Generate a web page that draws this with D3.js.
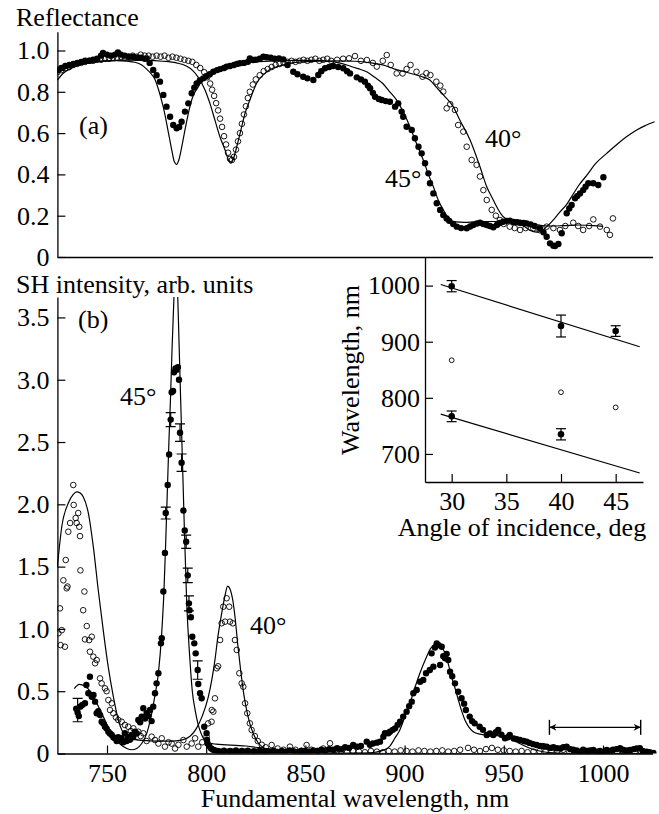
<!DOCTYPE html>
<html><head><meta charset="utf-8">
<script src="https://cdn.jsdelivr.net/npm/d3@7"></script>
<style>
html,body{margin:0;padding:0;background:#fff;}
svg{display:block;}
text{font-family:"Liberation Serif","Times New Roman",serif;font-size:26px;fill:#000;}
</style></head>
<body>
<svg id="chart" width="659" height="814"></svg>
<script>
// ---------- DATA ----------
// Panel (a): reflectance, [wavelength nm, R]
const reflData45 = [[725,0.906],[727,0.915],[729,0.925],[731,0.93],[733,0.935],[735,0.94],[737,0.945],[739,0.95],[741,0.95],[743,0.955],[745,0.96],[747,0.975],[748,0.988],[750,0.98],[752,0.975],[754,0.98],[755.5,0.99],[757,0.98],[759,0.975],[761,0.97],[763,0.97],[765,0.965],[767,0.965],[769,0.96],[770,0.962],[771.5,0.94],[773.3,0.906],[775,0.88],[776.7,0.849],[778.4,0.785],[780,0.728],[781.8,0.679],[783.4,0.639],[785.1,0.623],[786.4,0.63],[787.6,0.655],[789.3,0.704],[791,0.744],[792.7,0.793],[794,0.82],[795.2,0.841],[796.8,0.855],[798.5,0.865],[800,0.875],[801.8,0.885],[803.6,0.897],[805.5,0.905],[807,0.91],[809,0.915],[810.3,0.922],[812,0.925],[814,0.93],[815.5,0.935],[817,0.938],[819,0.94],[821,0.945],[822,0.962],[823.7,0.954],[825,0.955],[827,0.96],[828.8,0.97],[830.5,0.967],[832.5,0.965],[834.5,0.96],[836.7,0.962],[838.9,0.957],[841,0.93],[843.9,0.897],[846,0.885],[848.9,0.873],[851,0.865],[854,0.857],[856.5,0.881],[858,0.9],[859.9,0.914],[862,0.92],[864,0.925],[866.5,0.92],[869.1,0.914],[871,0.9],[872.5,0.889],[875.9,0.87],[878,0.86],[880,0.849],[881.5,0.83],[882.6,0.817],[884,0.795],[885.1,0.776],[887,0.765],[888.5,0.76],[890.5,0.755],[892.6,0.752],[895.2,0.728],[896.8,0.744],[898.5,0.704],[899.3,0.679],[901,0.631],[903.6,0.615],[905.2,0.575],[907,0.534],[908.6,0.502],[910.3,0.454],[912,0.405],[912.8,0.357],[914.5,0.308],[916.2,0.26],[917.9,0.228],[919.5,0.203],[921.2,0.187],[922.5,0.175],[924.5,0.16],[926.3,0.147],[928.5,0.14],[931.3,0.139],[933,0.148],[934.6,0.155],[936.5,0.162],[938,0.166],[939.7,0.16],[941.4,0.155],[943,0.15],[944.7,0.144],[946.5,0.155],[948,0.165],[949.7,0.171],[951.5,0.175],[953.1,0.176],[955,0.17],[956.7,0.168],[958.2,0.166],[960,0.165],[961.5,0.163],[963.5,0.158],[965.5,0.15],[968.2,0.139],[970,0.12],[971.6,0.098],[973.3,0.066],[975,0.055],[975.8,0.053],[977.5,0.063],[979.2,0.115],[981.7,0.212],[983,0.235],[984.2,0.252],[985.9,0.284],[987,0.295],[988.4,0.308],[990,0.324],[991.2,0.34],[992.6,0.357],[995.1,0.357],[997.6,0.349],[1000.2,0.386]];
const reflData40 = [[725,0.895],[727,0.905],[729,0.915],[731,0.92],[733,0.93],[735,0.935],[737,0.94],[739,0.945],[741,0.95],[743,0.95],[745,0.955],[747,0.955],[749,0.96],[751,0.96],[753,0.965],[755,0.965],[757,0.97],[759,0.965],[761,0.97],[763,0.975],[765,0.97],[767,0.98],[769,0.975],[771,0.975],[773,0.97],[775,0.975],[777,0.97],[779,0.975],[781,0.965],[783,0.97],[785,0.965],[787,0.96],[789,0.955],[791,0.95],[793,0.945],[795,0.93],[797,0.915],[799,0.895],[800.5,0.87],[802,0.84],[803,0.81],[804,0.78],[805,0.745],[806,0.71],[807,0.67],[808,0.63],[809,0.585],[810,0.545],[811,0.505],[812,0.475],[813,0.47],[814,0.485],[815,0.52],[816,0.56],[817,0.6],[818,0.645],[819,0.69],[820,0.73],[821,0.77],[822,0.8],[823.5,0.835],[825,0.86],[827,0.88],[829,0.9],[831,0.91],[833,0.92],[835,0.93],[837,0.935],[839,0.94],[841,0.945],[843,0.95],[845,0.945],[847,0.95],[849,0.955],[851,0.95],[853,0.955],[855,0.96],[857,0.95],[859,0.955],[861,0.96],[863,0.95],[866,0.955],[869,0.96],[872,0.962],[875,0.973],[878,0.95],[881,0.954],[884,0.94],[886,0.922],[889,0.95],[891,0.978],[893,0.93],[896,0.889],[899,0.889],[901,0.91],[903,0.93],[906,0.897],[909,0.873],[911,0.89],[913,0.881],[916,0.849],[918,0.83],[919.5,0.801],[921.2,0.72],[923,0.74],[925.4,0.712],[927,0.639],[929.6,0.607],[931.3,0.534],[933.8,0.47],[936.3,0.446],[938,0.39],[939.7,0.324],[941.4,0.276],[943.9,0.228],[946,0.2],[948,0.179],[950,0.16],[953,0.147],[955.5,0.14],[958.2,0.131],[961,0.14],[964.9,0.139],[968,0.13],[971.6,0.147],[975,0.14],[978.3,0.131],[981,0.15],[985,0.166],[987.5,0.15],[990,0.131],[993,0.15],[995.1,0.182],[998.5,0.147],[1001.9,0.131],[1003.5,0.107],[1005,0.187]];
const reflFit45 = [[725,0.857],[728,0.89],[732,0.914],[736,0.93],[740,0.938],[745,0.946],[750,0.95],[755,0.951],[760,0.948],[764,0.943],[767.5,0.93],[770,0.91],[772,0.89],[774.2,0.86],[776,0.81],[778,0.74],[779.2,0.69],[781,0.6],[782.6,0.52],[784,0.46],[785.1,0.449],[786.2,0.47],[787.7,0.534],[789,0.6],[791,0.696],[793,0.77],[796,0.825],[799,0.87],[802.8,0.897],[806,0.912],[810,0.925],[817.9,0.938],[825,0.945],[835,0.95],[845,0.952],[855,0.952],[862,0.948],[867,0.94],[872.4,0.925],[876.5,0.912],[880.9,0.897],[885,0.87],[889,0.84],[892.5,0.8],[896,0.76],[899.5,0.7],[902.7,0.631],[906,0.55],[909.4,0.47],[912,0.4],[914.5,0.34],[917,0.275],[919.5,0.228],[922.9,0.179],[926,0.17],[930,0.168],[935,0.17],[940,0.172],[945,0.172],[950,0.17],[955,0.165],[960,0.15],[963,0.13],[966.6,0.12],[969.5,0.13],[972,0.15],[975,0.18],[978,0.215],[981.7,0.255],[985,0.305],[988,0.35],[991.8,0.395],[996,0.45],[1001.9,0.502],[1007,0.545],[1012,0.583],[1017,0.615],[1021,0.635],[1026,0.655]];
const reflFit40 = [[725,0.89],[730,0.915],[735,0.93],[740,0.94],[745,0.946],[750,0.95],[760,0.953],[770,0.952],[778,0.948],[785,0.94],[790,0.925],[793,0.905],[796,0.87],[799.4,0.809],[802,0.74],[804.4,0.663],[807,0.58],[809.5,0.518],[811,0.475],[812.3,0.454],[813.5,0.47],[815.4,0.534],[817.5,0.615],[819.6,0.696],[822,0.76],[825.4,0.841],[830.5,0.897],[838.9,0.93],[845,0.942],[855.7,0.948],[865,0.95],[875,0.948],[883,0.94],[889,0.93],[895,0.91],[902.7,0.89],[908,0.875],[912.7,0.857],[916.2,0.82],[920,0.78],[924.5,0.728],[928,0.66],[933,0.567],[938,0.437],[941.4,0.34],[944.7,0.276],[947.5,0.225],[949.7,0.195],[953,0.18],[958.3,0.171],[965,0.158],[972,0.15],[980,0.152],[988,0.155],[995,0.152],[1000,0.148]];

// Panel (b): SH intensity, [wavelength nm, I]
const shData45 = [[734.5,0.36],[735.2,0.33],[735.8,0.3],[736.5,0.376],[737.5,0.39],[738.9,0.403],[739.6,0.55],[740.6,0.483],[741.4,0.616],[742.3,0.456],[743.2,0.47],[744,0.416],[744.8,0.323],[745.6,0.34],[746.5,0.309],[747.3,0.255],[748.2,0.24],[749,0.215],[749.8,0.2],[750.7,0.175],[751.5,0.16],[752.4,0.148],[753.2,0.13],[754,0.122],[754.9,0.1],[755.7,0.13],[756.6,0.11],[757.4,0.122],[758.2,0.09],[759,0.162],[759.9,0.1],[760.7,0.13],[761.5,0.11],[762.4,0.148],[763.2,0.13],[764.1,0.175],[765,0.16],[765.8,0.269],[766.7,0.25],[767.5,0.296],[768.3,0.363],[769.2,0.28],[770,0.323],[770.8,0.3],[771.7,0.349],[772.5,0.26],[773.3,0.376],[774.2,0.483],[775,0.563],[775.9,0.644],[777.2,0.884],[777.6,0.925],[778.4,1.3],[779.2,1.61],[779.6,1.93],[780.6,2.155],[781.3,2.4],[782.1,2.68],[782.6,2.9],[783.3,2.91],[783.8,3.06],[784.5,3.09],[785.1,3.08],[785.7,3.1],[786.3,3.0],[786.8,2.575],[787.6,2.334],[788.5,1.95],[789.2,1.79],[789.9,1.7],[790.7,1.43],[791.3,1.205],[791.6,1.15],[792.3,1.093],[793,0.937],[794,0.884],[794.7,0.804],[795.7,0.67],[796,0.558],[796.9,0.483],[797.7,0.443],[799,0.215],[800.2,0.162],[800.4,0.108],[800.7,0.08],[801.5,0.06],[802.5,0.04],[803.5,0.03],[804.5,0.025],[806,0.02],[807.5,0.015],[809,0.022],[810.5,0.012],[812,0.02],[813.5,0.015],[815,0.025],[816.5,0.012],[818,0.02],[819.5,0.015],[821,0.022],[822.5,0.01],[824,0.018],[825.5,0.015],[827,0.02],[828.5,0.012],[830,0.018],[832,0.015],[834,0.022],[836,0.012],[838,0.02],[840,0.015],[842,0.025],[844,0.018],[846,0.012],[848,0.022],[850,0.02],[852,0.015],[854,0.025],[856,0.02],[858,0.03],[860,0.025],[862,0.035],[864,0.03],[866,0.042],[868,0.035],[870,0.05],[872,0.045],[874.1,0.068],[876,0.055],[878,0.06],[880.9,0.095],[882.5,0.07],[884,0.08],[886,0.087],[887.6,0.095],[889.3,0.135],[890.1,0.162],[891.8,0.162],[892.6,0.175],[894,0.19],[895.2,0.202],[896.5,0.23],[897.7,0.255],[899.3,0.296],[901,0.336],[902.3,0.38],[903.6,0.416],[904.4,0.483],[906.1,0.51],[907.8,0.576],[909.4,0.59],[910.8,0.644],[912.7,0.67],[913.6,0.804],[914.5,0.697],[915.3,0.85],[916.2,0.884],[917.1,0.87],[917.9,0.71],[918.7,0.857],[919.5,0.78],[920.4,0.764],[921.2,0.8],[922,0.75],[922.9,0.657],[924,0.62],[925.4,0.563],[927,0.496],[928.7,0.443],[930,0.4],[930.9,0.349],[932.8,0.296],[934,0.26],[935.3,0.242],[937.8,0.215],[939.5,0.19],[941.4,0.148],[943,0.16],[944.7,0.148],[946,0.17],[947.2,0.189],[948.8,0.15],[950.6,0.122],[952,0.13],[953,0.148],[955,0.12],[956.5,0.115],[958.2,0.108],[960,0.1],[961.5,0.095],[963,0.085],[964.8,0.075],[966.6,0.068],[968.5,0.06],[970,0.058],[971.6,0.055],[973.5,0.045],[975,0.05],[976.7,0.042],[978.5,0.04],[980,0.05],[981.7,0.055],[983.5,0.035],[985,0.03],[986.7,0.025],[988.4,0.015],[990,0.03],[991.8,0.02],[993.5,0.025],[995.1,0.028],[997,0.015],[998.5,0.02],[1000,0.01],[1001.9,0.028],[1003.5,0.02],[1005,0.03],[1006.8,0.035],[1008.6,0.042],[1010,0.03],[1011.8,0.025],[1013.6,0.028],[1015.5,0.035],[1017,0.04],[1018.6,0.042],[1020,0.02],[1022,0.015],[1023.5,0.01],[1025.4,0.005]];
const shErr45 = [[735.2,0.349,0.094],[779.6,1.93,0.048],[782.1,2.68,0.056],[786.8,2.575,0.07],[787.6,2.334,0.07],[789.9,1.7,0.053],[790.7,1.43,0.058],[791.3,1.205,0.06],[795.7,0.67,0.074]];
const shData40 = [[725.5,0.965],[726.3,1.165],[726.6,0.87],[727.2,0.99],[728,1.39],[728.8,0.857],[729.2,1.553],[729.7,1.326],[730.1,1.34],[730.5,1.78],[731.4,1.85],[733,2.155],[733.2,1.995],[734.2,1.89],[734.7,1.85],[735.5,1.93],[736,1.82],[736.4,1.745],[736.6,1.47],[738,1.15],[738.6,1.3],[738.9,0.916],[739.8,1.023],[741,0.91],[741.4,0.817],[742.3,0.937],[743.1,0.777],[744,0.724],[744.8,0.75],[746.5,0.603],[747.3,0.563],[749,0.523],[749.8,0.5],[750.7,0.429],[751.5,0.349],[752.4,0.403],[753.2,0.323],[754.5,0.29],[755.7,0.269],[757.4,0.255],[759,0.229],[760.7,0.215],[762,0.18],[763.3,0.202],[765.8,0.175],[767,0.14],[768.3,0.162],[770,0.1],[772.5,0.135],[774.2,0.108],[775.9,0.08],[777.6,0.122],[779.2,0.055],[781,0.09],[782.6,0.08],[784.3,0.04],[786,0.07],[788.5,0.108],[790.2,0.055],[792.7,0.08],[794.4,0.122],[796,0.055],[798,0.09],[800.2,0.135],[801,0.242],[802.7,0.255],[802.8,0.349],[803.6,0.336],[804.4,0.443],[805.3,0.684],[806,0.7],[807,0.911],[807.8,1.045],[808.6,1.178],[809.5,1.058],[810.3,1.246],[811.6,1.178],[812,1.058],[813.4,1.045],[814.5,0.911],[815.4,0.831],[816.7,0.644],[817.9,0.563],[818.7,0.536],[819.6,0.403],[820.7,0.323],[822,0.242],[822.9,0.189],[824.5,0.14],[826,0.1],[828,0.07],[830,0.05],[833,0.068],[836,0.04],[839,0.03],[842.2,0.055],[845,0.03],[848,0.02],[850.6,0.068],[853,0.03],[856,0.02],[859,0.04],[862.4,0.082],[865,0.03],[868,0.02],[871,0.01],[874,0.02],[877,0.015],[880,0.01],[883,0.02],[886,0.015],[889,0.01],[892,0.02],[895,0.015],[898,0.025],[901,0.02],[904,0.015],[907,0.025],[910,0.02],[913,0.015],[916,0.02],[919,0.025],[922,0.015],[925,0.02],[928,0.03],[932,0.045],[935,0.03],[938,0.02],[941,0.035],[944,0.045],[947,0.03],[950,0.025],[953,0.02],[956,0.015],[959,0.02],[962,0.01],[965,0.015],[968,0.02],[971,0.015],[974,0.01],[977,0.02],[980,0.03],[983,0.015],[986,0.01],[989,0.015],[992,0.02],[995,0.01],[998,0.015],[1001,0.02],[1004,0.01],[1007,0.015],[1010,0.02],[1013,0.01],[1016,0.015],[1019,0.02],[1022,0.01]];
const shFit45 = [[733.5,0.52],[736,0.555],[739,0.54],[742,0.49],[745,0.4],[748,0.3],[751,0.2],[754,0.12],[757,0.07],[760,0.04],[762.5,0.03],[765,0.04],[767.5,0.08],[770,0.16],[772,0.28],[774,0.45],[775.9,0.644],[777.5,0.95],[778.7,1.3],[779.6,1.7],[780.4,2.1],[781.2,2.5],[782,2.85],[782.8,3.25],[783.6,3.6],[784.5,3.95],[785.5,3.75],[786.3,3.3],[787.2,2.8],[788.2,2.25],[789,1.8],[790.2,1.2],[791.8,0.75],[793,0.5],[794.4,0.35],[796,0.23],[797.7,0.15],[799.5,0.1],[801,0.085],[805,0.075],[810,0.07],[815,0.065],[820,0.06],[825,0.05],[830,0.04],[840,0.025],[850,0.012],[860,0.005],[870,0.002],[880,0.003],[885,0.01],[889,0.025],[892.6,0.06],[895,0.12],[897.6,0.189],[900,0.29],[902.7,0.403],[905,0.52],[907.7,0.644],[911.1,0.777],[913,0.84],[914.5,0.87],[916.2,0.884],[918,0.87],[920.4,0.804],[922,0.72],[923.7,0.616],[925.5,0.52],[927.1,0.429],[929,0.33],[930.4,0.269],[932.5,0.21],[934.6,0.175],[938,0.155],[941.4,0.148],[945,0.145],[949.7,0.135],[954.8,0.108],[958,0.08],[963.2,0.042],[968,0.02],[975,0.005],[985,0],[1025,0]];
const shFit40 = [[725,1.5],[727.2,1.82],[730.5,2.01],[733,2.08],[734.7,2.1],[736.5,2.09],[738,2.06],[740.6,1.93],[743.1,1.66],[745.6,1.31],[748.1,0.99],[750.6,0.697],[753.2,0.456],[755.7,0.269],[758,0.17],[760.5,0.13],[763.3,0.115],[768,0.105],[775,0.1],[782,0.1],[788,0.11],[792,0.14],[795,0.2],[798,0.3],[801,0.45],[804.4,0.75],[806,0.95],[807.8,1.125],[809.5,1.27],[810.8,1.344],[812,1.32],[813.5,1.22],[814.5,1.1],[816,0.86],[817.5,0.65],[819,0.47],[820.5,0.34],[822,0.24],[824,0.15],[826,0.09],[829,0.045],[833,0.02],[840,0.008],[860,0.002],[900,0],[1025,0]];
const arrowRange = [973, 1019];
const arrowLevel = 0.21;

// Inset: resonance wavelength vs angle
const insetUpper = [[30, 999, 10], [40, 928, 19.5], [45, 919, 9.5]];
const insetLower = [[30, 767, 9.5], [40, 735, 10]];
const insetOpen = [[30, 867], [40, 810], [45, 783]];
const insetFitUpper = [[29, 1002], [47.2, 891]];
const insetFitLower = [[29, 771], [47.2, 666]];

// Tick labels
const reflTicks = [0, 0.2, 0.4, 0.6, 0.8, 1.0];
const shTicks = [0, 0.5, 1.0, 1.5, 2.0, 2.5, 3.0, 3.5];
const wlTicks = [750, 800, 850, 900, 950, 1000];
const insetXTicks = [30, 35, 40, 45];
const insetYTicks = [700, 800, 900, 1000];

// ---------- DRAW ----------
const FONT = '"Liberation Serif","Times New Roman",serif';
const svg = d3.select("#chart");
const x = d3.scaleLinear().domain([725, 1025]).range([57.4, 652.6]);
const yA = d3.scaleLinear().domain([0, 1.091]).range([257, 31.7]);
const yB = d3.scaleLinear().domain([0, 3.664]).range([753.5, 297]);
const xI = d3.scaleLinear().domain([27.56, 47.5]).range([425, 643]);
const yI = d3.scaleLinear().domain([650, 1051]).range([482, 257]);

const defs = svg.append("defs");
defs.append("clipPath").attr("id","clipA").append("rect").attr("x",57).attr("y",yA.range()[1]).attr("width",600).attr("height",yA.range()[0]-yA.range()[1]);
defs.append("clipPath").attr("id","clipB").append("rect").attr("x",57).attr("y",yB.range()[1]).attr("width",600).attr("height",yB.range()[0]-yB.range()[1]);
const mk = defs.append("marker").attr("id","ah").attr("viewBox","0 0 10 10").attr("refX",10).attr("refY",5)
  .attr("markerWidth",11).attr("markerHeight",7).attr("markerUnits","userSpaceOnUse").attr("orient","auto-start-reverse");
mk.append("path").attr("d","M0,0 L10,5 L0,10 L3,5 Z").attr("fill","#000");

function styleAxis(g){
  g.attr("font-family", null).attr("font-size", null);
  g.select(".domain").attr("stroke","#000").attr("stroke-width",1.3);
  g.selectAll(".tick line").attr("stroke","#000").attr("stroke-width",1.2);
  g.selectAll(".tick text").style("font-family",FONT).style("font-size","26px").attr("fill","#000");
}
const fmtR = d => d === 0 ? "0" : d3.format(".1f")(d);

// Panel (a) axes
svg.append("g").attr("transform","translate(57.4,0)")
  .call(d3.axisLeft(yA).tickValues(reflTicks).tickFormat(fmtR).tickSizeInner(-8).tickSizeOuter(0).tickPadding(8))
  .call(styleAxis);
svg.append("g").attr("transform","translate(0,257)")
  .call(d3.axisBottom(x).tickValues([]).tickSizeOuter(0))
  .call(styleAxis);

// Panel (b) axes
svg.append("g").attr("transform","translate(57.4,0)")
  .call(d3.axisLeft(yB).tickValues(shTicks).tickFormat(fmtR).tickSizeInner(-8).tickSizeOuter(0).tickPadding(8))
  .call(styleAxis);
svg.append("g").attr("transform","translate(0,753.5)")
  .call(d3.axisBottom(x).tickValues(wlTicks).tickFormat(d3.format("d")).tickSizeInner(-8).tickSizeOuter(0).tickPadding(10))
  .call(styleAxis);

const lineA = d3.line().x(d=>x(d[0])).y(d=>yA(d[1])).curve(d3.curveMonotoneX);
const lineB = d3.line().x(d=>x(d[0])).y(d=>yB(d[1])).curve(d3.curveMonotoneX);

const gA = svg.append("g").attr("clip-path","url(#clipA)");
gA.selectAll(".o40").data(reflData40).join("circle").attr("cx",d=>x(d[0])).attr("cy",d=>yA(d[1])).attr("r",2.8)
  .attr("fill","none").attr("stroke","#000").attr("stroke-width",0.9);
gA.selectAll(".f45").data(reflData45).join("circle").attr("cx",d=>x(d[0])).attr("cy",d=>yA(d[1])).attr("r",3.2).attr("fill","#000");
[reflFit45, reflFit40].forEach(f => gA.append("path").datum(f).attr("d",lineA).attr("fill","none").attr("stroke","#000").attr("stroke-width",1.2));

const gB = svg.append("g").attr("clip-path","url(#clipB)");
gB.selectAll(".o40b").data(shData40).join("circle").attr("cx",d=>x(d[0])).attr("cy",d=>yB(d[1])).attr("r",2.8)
  .attr("fill","none").attr("stroke","#000").attr("stroke-width",0.9);
gB.selectAll(".f45b").data(shData45).join("circle").attr("cx",d=>x(d[0])).attr("cy",d=>yB(d[1])).attr("r",3.2).attr("fill","#000");
const eb = gB.selectAll(".eb").data(shErr45).join("g");
eb.append("line").attr("x1",d=>x(d[0])).attr("x2",d=>x(d[0])).attr("y1",d=>yB(d[1]-d[2])).attr("y2",d=>yB(d[1]+d[2])).attr("stroke","#000").attr("stroke-width",1.2);
eb.append("line").attr("x1",d=>x(d[0])-5).attr("x2",d=>x(d[0])+5).attr("y1",d=>yB(d[1]-d[2])).attr("y2",d=>yB(d[1]-d[2])).attr("stroke","#000").attr("stroke-width",1.2);
eb.append("line").attr("x1",d=>x(d[0])-5).attr("x2",d=>x(d[0])+5).attr("y1",d=>yB(d[1]+d[2])).attr("y2",d=>yB(d[1]+d[2])).attr("stroke","#000").attr("stroke-width",1.2);
[shFit45, shFit40].forEach(f => gB.append("path").datum(f).attr("d",lineB).attr("fill","none").attr("stroke","#000").attr("stroke-width",1.2));

// range arrow
svg.append("line").attr("x1",x(arrowRange[0])).attr("x2",x(arrowRange[1])).attr("y1",yB(arrowLevel)).attr("y2",yB(arrowLevel))
  .attr("stroke","#000").attr("stroke-width",1.3).attr("marker-start","url(#ah)").attr("marker-end","url(#ah)");
arrowRange.forEach(v => svg.append("line").attr("x1",x(v)).attr("x2",x(v)).attr("y1",yB(arrowLevel)-7.5).attr("y2",yB(arrowLevel)+7.5).attr("stroke","#000").attr("stroke-width",1.4));

// Inset
svg.append("g").attr("transform","translate(425,0)")
  .call(d3.axisLeft(yI).tickValues(insetYTicks).tickFormat(d3.format("d")).tickSizeInner(-8).tickSizeOuter(0).tickPadding(5))
  .call(styleAxis);
svg.append("g").attr("transform","translate(0,482)")
  .call(d3.axisBottom(xI).tickValues(insetXTicks).tickFormat(d3.format("d")).tickSizeInner(-8).tickSizeOuter(0).tickPadding(10))
  .call(styleAxis);
const lineI = d3.line().x(d=>xI(d[0])).y(d=>yI(d[1]));
[insetFitUpper, insetFitLower].forEach(f => svg.append("path").datum(f).attr("d",lineI).attr("fill","none").attr("stroke","#000").attr("stroke-width",1.2));
const insetFilled = insetUpper.concat(insetLower);
const ie = svg.selectAll(".ie").data(insetFilled).join("g");
ie.append("line").attr("x1",d=>xI(d[0])).attr("x2",d=>xI(d[0])).attr("y1",d=>yI(d[1]-d[2])).attr("y2",d=>yI(d[1]+d[2])).attr("stroke","#000").attr("stroke-width",1.2);
ie.append("line").attr("x1",d=>xI(d[0])-5).attr("x2",d=>xI(d[0])+5).attr("y1",d=>yI(d[1]-d[2])).attr("y2",d=>yI(d[1]-d[2])).attr("stroke","#000").attr("stroke-width",1.2);
ie.append("line").attr("x1",d=>xI(d[0])-5).attr("x2",d=>xI(d[0])+5).attr("y1",d=>yI(d[1]+d[2])).attr("y2",d=>yI(d[1]+d[2])).attr("stroke","#000").attr("stroke-width",1.2);
ie.append("circle").attr("cx",d=>xI(d[0])).attr("cy",d=>yI(d[1])).attr("r",3.3).attr("fill","#000");
svg.selectAll(".io").data(insetOpen).join("circle").attr("cx",d=>xI(d[0])).attr("cy",d=>yI(d[1])).attr("r",2.4)
  .attr("fill","none").attr("stroke","#000").attr("stroke-width",0.9);

// Text labels
svg.append("text").attr("x",16).attr("y",26).text("Reflectance");
svg.append("text").attr("x",79).attr("y",134).text("(a)");
svg.append("text").attr("x",385).attr("y",187).text("45°");
svg.append("text").attr("x",485).attr("y",147).text("40°");
svg.append("text").attr("x",16).attr("y",293).text("SH intensity, arb. units");
svg.append("text").attr("x",78).attr("y",328).text("(b)");
svg.append("text").attr("x",120).attr("y",405).text("45°");
svg.append("text").attr("x",250).attr("y",634).text("40°");
svg.append("text").attr("x",355).attr("y",807).attr("text-anchor","middle").text("Fundamental wavelength, nm");
svg.append("text").attr("x",522).attr("y",536).attr("text-anchor","middle").text("Angle of incidence, deg");
svg.append("text").attr("transform","translate(359,370) rotate(-90)").attr("text-anchor","middle").text("Wavelength, nm");
</script>
</body></html>
